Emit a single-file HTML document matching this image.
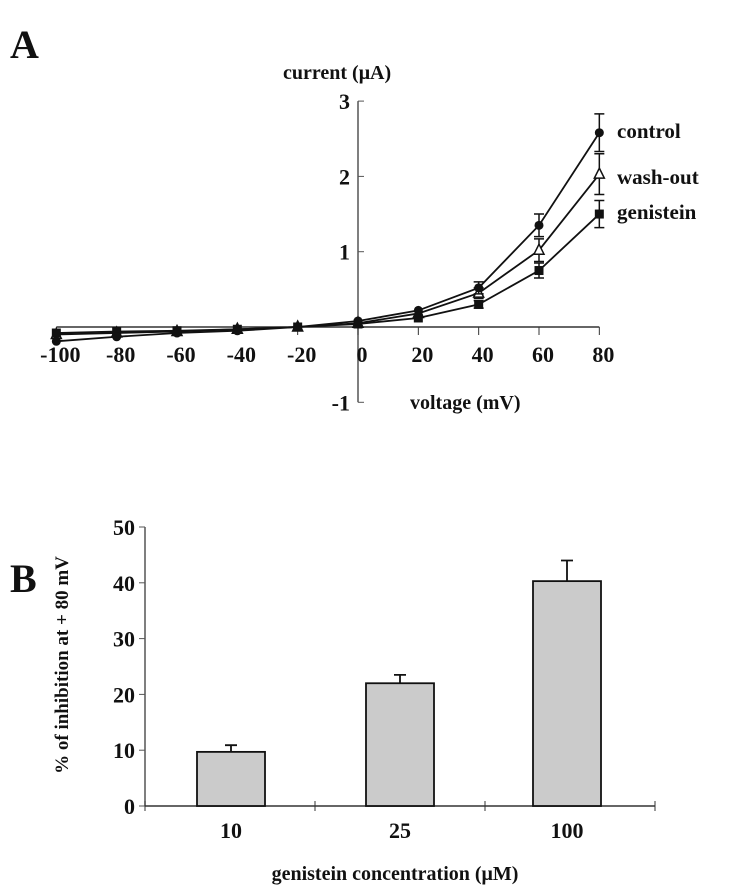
<!DOCTYPE html>
<html><head><meta charset="utf-8"><style>
body{margin:0;background:#fff;}
svg text{font-family:"Liberation Serif",serif;font-weight:bold;fill:#111;}
</style></head><body>
<svg id="c" width="743" height="886" xmlns="http://www.w3.org/2000/svg">
<text x="10" y="58" font-size="40">A</text>
<text x="283" y="79" font-size="20">current (μA)</text>
<text x="410" y="409" font-size="20">voltage (mV)</text>
<text x="10" y="592" font-size="40">B</text>
<text transform="translate(68,665) rotate(-90)" text-anchor="middle" font-size="19">% of inhibition at + 80 mV</text>
<text x="395" y="880" text-anchor="middle" font-size="20">genistein concentration (μM)</text>
<g id="ga"></g><g id="gb"></g>
</svg>
<script>
const voltages=[-100,-80,-60,-40,-20,0,20,40,60,80];
const controlVals=[-0.19,-0.13,-0.08,-0.05,0,0.08,0.22,0.52,1.35,2.58];
const controlErr=[0,0,0,0,0,0,0.03,0.08,0.15,0.25];
const washVals=[-0.1,-0.08,-0.06,-0.03,0,0.05,0.18,0.45,1.02,2.03];
const washErr=[0,0,0,0,0,0,0.03,0.07,0.15,0.27];
const genVals=[-0.08,-0.06,-0.05,-0.03,0,0.04,0.12,0.3,0.75,1.5];
const genErr=[0,0,0,0,0,0,0.02,0.05,0.1,0.18];
const aYTicks=[-1,1,2,3];
const bCats=["10","25","100"];
const bVals=[9.7,22,40.3];
const bErr=[1.2,1.5,3.7];
const bYTicks=[0,10,20,30,40,50];

const NS="http://www.w3.org/2000/svg";
function mk(p,t,a){const e=document.createElementNS(NS,t);for(const k in a)e.setAttribute(k,a[k]);p.appendChild(e);return e;}
const ga=document.getElementById('ga'), gb=document.getElementById('gb');
const ax=v=>358+(v)*(599-56)/180, ay=v=>327-v*75.3;
let l=mk(ga,'line',{x1:ax(0),x2:ax(0),y1:ay(3),y2:ay(-1),stroke:'#555','stroke-width':1.5});

l=mk(ga,'line',{x1:ax(-100),x2:ax(80),y1:ay(0),y2:ay(0),stroke:'#333','stroke-width':1.5});

aYTicks.forEach(v=>{mk(ga,'line',{x1:ax(0),x2:ax(0)+6,y1:ay(v),y2:ay(v),stroke:'#555'});
 const t=mk(ga,'text',{x:ax(0)-8,y:ay(v)+8,'text-anchor':'end','font-size':22});t.textContent=v;
 });
voltages.forEach(v=>{mk(ga,'line',{x1:ax(v),x2:ax(v),y1:ay(0),y2:ay(0)+8,stroke:'#333'});
 const t=mk(ga,'text',{x:ax(v)+4,y:ay(0)+35,'text-anchor':'middle','font-size':22});t.textContent=v;
 });
function series(vals,err,mark,name){
 const g=mk(ga,'g',{});
 mk(g,'polyline',{points:voltages.map((v,i)=>ax(v)+','+ay(vals[i])).join(' '),fill:'none',stroke:'#111','stroke-width':1.8});
 voltages.forEach((v,i)=>{const x=ax(v),y=ay(vals[i]);
  if(err[i]>0.04){const y1=ay(vals[i]+err[i]),y2=ay(vals[i]-err[i]);
   mk(g,'path',{d:`M${x},${y1}V${y2}M${x-5},${y1}H${x+5}M${x-5},${y2}H${x+5}`,stroke:'#111','stroke-width':1.5});}
  let m;
  if(mark=='c')m=mk(g,'circle',{cx:x,cy:y,r:4.5,fill:'#111'});
  else if(mark=='t')m=mk(g,'path',{d:`M${x},${y-6}L${x+5},${y+4}L${x-5},${y+4}Z`,fill:'#fff',stroke:'#111','stroke-width':1.5});
  else m=mk(g,'rect',{x:x-4.5,y:y-4.5,width:9,height:9,fill:'#111'});
  });
}
series(washVals,washErr,'t','wash-out');series(genVals,genErr,'s','genistein');series(controlVals,controlErr,'c','control');
[["control",138],["wash-out",184],["genistein",219]].forEach(([s,y])=>{const t=mk(ga,'text',{x:617,y:y,'font-size':21});t.textContent=s;
 });

const bx0=145,bx1=655,by=v=>806-v*(806-527)/50,bw=(bx1-bx0)/3;
l=mk(gb,'line',{x1:bx0,x2:bx0,y1:by(50),y2:by(0),stroke:'#555','stroke-width':1.5});

l=mk(gb,'line',{x1:bx0,x2:bx1,y1:by(0),y2:by(0),stroke:'#333','stroke-width':1.5});

bYTicks.forEach(v=>{mk(gb,'line',{x1:bx0-6,x2:bx0,y1:by(v),y2:by(v),stroke:'#555'});
 const t=mk(gb,'text',{x:bx0-10,y:by(v)+8,'text-anchor':'end','font-size':22});t.textContent=v;
 });
for(let i=0;i<=3;i++)mk(gb,'line',{x1:bx0+i*bw,x2:bx0+i*bw,y1:by(0)-5,y2:by(0)+5,stroke:'#333'});
bCats.forEach((c,i)=>{const cx=bx0+bw*(i+0.5)+(i==0?1:i==2?-3:0);
 const e=by(bVals[i]+bErr[i]);
 mk(gb,'path',{d:`M${cx},${by(bVals[i])}V${e}M${cx-6},${e}H${cx+6}`,stroke:'#111','stroke-width':1.8});
 const r=mk(gb,'rect',{x:cx-34,y:by(bVals[i]),width:68,height:by(0)-by(bVals[i]),fill:'#cbcbcb',stroke:'#111','stroke-width':1.8});
 
 const t=mk(gb,'text',{x:cx,y:by(0)+32,'text-anchor':'middle','font-size':22});t.textContent=c;
 });
</script>
</body></html>
